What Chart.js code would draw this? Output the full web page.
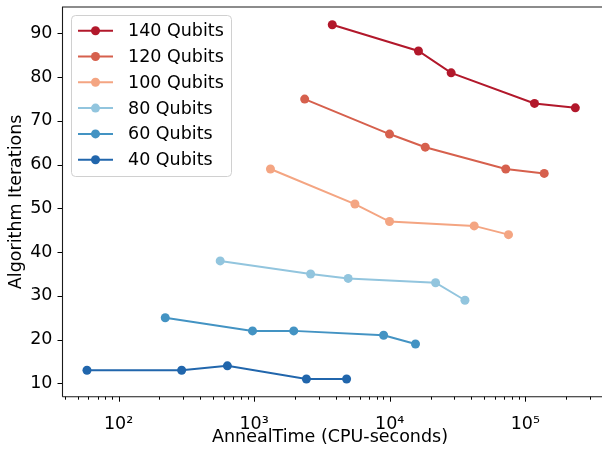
<!DOCTYPE html>
<html>
<head>
<meta charset="utf-8">
<script src="https://cdn.jsdelivr.net/npm/chart.js@4.4.0/dist/chart.umd.min.js"></script>
<style>
  html, body { margin: 0; padding: 0; background: #fff; }
</style>
</head>
<body>
<canvas id="annealChart" width="602" height="450"></canvas>
<script>
// series, in legend order
const seriesLabels = ['140 Qubits', '120 Qubits', '100 Qubits', '80 Qubits', '60 Qubits', '40 Qubits'];
const seriesColors = ['#b2182b', '#d6604d', '#f4a582', '#92c5de', '#4393c3', '#2166ac'];

// anneal time (CPU-seconds) and algorithm iterations
const annealTime140 = [3770, 16300, 28400, 117000, 234000];
const iterations140 = [92, 86, 81, 74, 73];
const annealTime120 = [2360, 9970, 18300, 71800, 138000];
const iterations120 = [75, 67, 64, 59, 58];
const annealTime100 = [1320, 5540, 9970, 42000, 75200];
const iterations100 = [59, 51, 47, 46, 44];
const annealTime80 = [562, 2610, 4940, 21800, 35900];
const iterations80 = [38, 35, 34, 33, 29];
const annealTime60 = [221, 973, 1960, 9020, 15500];
const iterations60 = [25, 22, 22, 21, 19];
const annealTime40 = [58.5, 292, 635, 2430, 4810];
const iterations40 = [13, 13, 14, 11, 11];

const yTicks = [10, 20, 30, 40, 50, 60, 70, 80, 90];
const xDecades = [1, 2, 3, 4, 5, 6];
const superscripts = { 1: '\u00b9', 2: '\u00b2', 3: '\u00b3', 4: '\u2074', 5: '\u2075', 6: '\u2076' };

const allTimes = [annealTime140, annealTime120, annealTime100, annealTime80, annealTime60, annealTime40];
const allIters = [iterations140, iterations120, iterations100, iterations80, iterations60, iterations40];

const FONT = 'DejaVu Sans';
const FONT_SIZE = 17.5;

function pairUp(xs, ys) {
  return xs.map((v, i) => ({ x: v, y: ys[i] }));
}

const datasets = seriesLabels.map((label, i) => ({
  label: label,
  data: pairUp(allTimes[i], allIters[i]),
  showLine: true,
  borderColor: seriesColors[i],
  backgroundColor: seriesColors[i],
  borderWidth: 2,
  pointRadius: 4.5,
  pointHoverRadius: 4.5,
  pointBorderWidth: 0,
  tension: 0
}));

// frame, tick marks and an in-axes legend, drawn like matplotlib does
const frameAndLegend = {
  id: 'frameAndLegend',
  afterDraw(chart) {
    const { ctx, chartArea: { top, bottom, left, right }, scales: { x, y } } = chart;
    ctx.save();

    // tick marks
    ctx.strokeStyle = '#000';
    ctx.lineWidth = 1;
    ctx.beginPath();
    x.ticks.forEach(t => {
      const px = Math.round(x.getPixelForValue(t.value)) + 0.5;
      const isMajor = Math.abs(Math.log10(t.value) - Math.round(Math.log10(t.value))) < 1e-9;
      const len = isMajor ? 5 : 3;
      ctx.moveTo(px, bottom);
      ctx.lineTo(px, bottom + len);
    });
    y.ticks.forEach(t => {
      const py = Math.round(y.getPixelForValue(t.value)) + 0.5;
      ctx.moveTo(left, py);
      ctx.lineTo(left - 5, py);
    });
    ctx.stroke();

    // spines (right one falls just outside the figure)
    ctx.strokeStyle = '#1a1a1a';
    ctx.lineWidth = 1.1;
    ctx.beginPath();
    ctx.moveTo(left, bottom);
    ctx.lineTo(left, top);
    ctx.lineTo(right + 10, top);
    ctx.moveTo(left, bottom);
    ctx.lineTo(right + 10, bottom);
    ctx.stroke();

    // legend box
    const bx = 71.5, by = 15.5, bw = 160, bh = 161;
    ctx.beginPath();
    ctx.roundRect(bx, by, bw, bh, 4);
    ctx.fillStyle = 'rgba(255,255,255,0.8)';
    ctx.fill();
    ctx.strokeStyle = '#d0d0d0';
    ctx.lineWidth = 1;
    ctx.stroke();

    ctx.font = FONT_SIZE + 'px "' + FONT + '"';
    ctx.textBaseline = 'middle';
    ctx.textAlign = 'left';
    chart.data.datasets.forEach((ds, i) => {
      const ry = 30.7 + i * 25.8;
      ctx.strokeStyle = ds.borderColor;
      ctx.lineWidth = 2;
      ctx.beginPath();
      ctx.moveTo(78, ry);
      ctx.lineTo(113, ry);
      ctx.stroke();
      ctx.fillStyle = ds.backgroundColor;
      ctx.beginPath();
      ctx.arc(95.5, ry, 4.5, 0, Math.PI * 2);
      ctx.fill();
      ctx.fillStyle = '#000';
      ctx.fillText(ds.label, 128, ry + 1);
    });

    ctx.restore();
  }
};

const config = {
  type: 'scatter',
  data: { datasets },
  options: {
    responsive: false,
    animation: false,
    devicePixelRatio: 1,
    layout: { padding: { top: 7, right: 0, left: 0, bottom: 0 } },
    plugins: {
      legend: { display: false },
      tooltip: { enabled: false }
    },
    scales: {
      x: {
        type: 'logarithmic',
        min: 38.6,
        max: 341000,
        grid: { display: false },
        border: { display: false },
        afterBuildTicks(scale) {
          const ticks = [];
          xDecades.forEach(d => {
            for (let m = 1; m <= 9; m++) {
              const v = m * Math.pow(10, d - 1);
              if (v >= scale.min && v <= scale.max) ticks.push({ value: v });
            }
          });
          scale.ticks = ticks;
        },
        afterFit(scale) {
          scale.height = 53.3;
          scale.paddingLeft = 0;
          scale.paddingRight = 0;
        },
        ticks: {
          autoSkip: false,
          maxRotation: 0,
          padding: 9,
          color: '#000',
          font: { family: FONT, size: FONT_SIZE },
          callback(value) {
            const p = Math.log10(value);
            if (Math.abs(p - Math.round(p)) < 1e-9) return '10' + superscripts[Math.round(p)];
            return '';
          }
        },
        title: {
          display: true,
          text: 'AnnealTime (CPU-seconds)',
          color: '#000',
          font: { family: FONT, size: FONT_SIZE },
          padding: { top: 0, bottom: 2 }
        }
      },
      y: {
        min: 6.95,
        max: 96.05,
        grid: { display: false },
        border: { display: false },
        afterBuildTicks(scale) {
          scale.ticks = yTicks.map(v => ({ value: v }));
        },
        afterFit(scale) {
          scale.width = 62.5;
          scale.paddingTop = 0;
          scale.paddingBottom = 0;
        },
        ticks: {
          padding: 2,
          color: '#000',
          font: { family: FONT, size: FONT_SIZE }
        },
        title: {
          display: true,
          text: 'Algorithm Iterations',
          color: '#000',
          font: { family: FONT, size: FONT_SIZE },
          padding: { top: 6, bottom: 0 }
        }
      }
    }
  },
  plugins: [frameAndLegend]
};

const annealChart = new Chart(document.getElementById('annealChart'), config);
</script>
</body>
</html>
